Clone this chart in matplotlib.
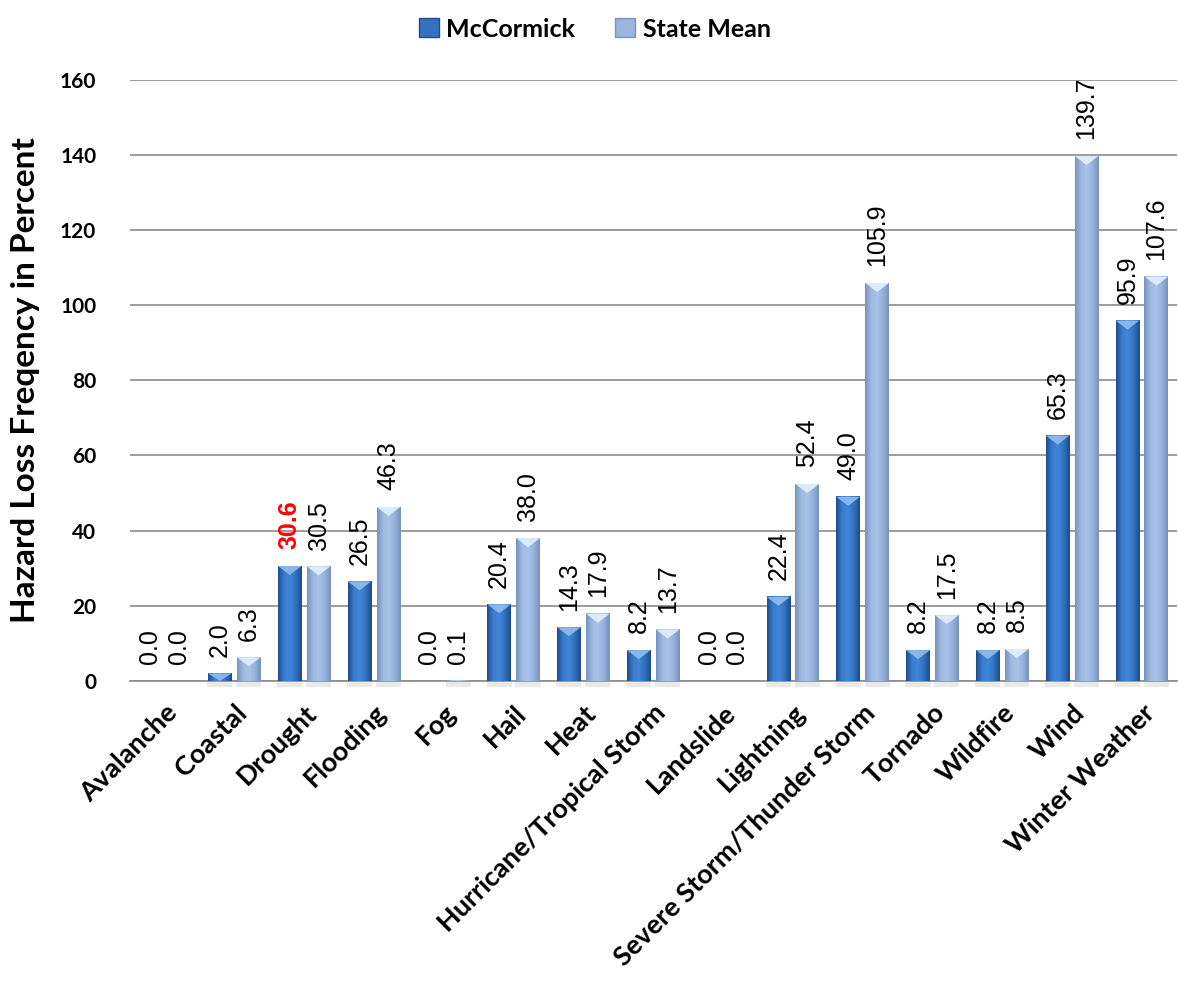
import numpy as np
import matplotlib.pyplot as plt
from matplotlib.colors import LinearSegmentedColormap
from matplotlib.patches import Polygon, Rectangle, Patch

categories = ['Avalanche', 'Coastal', 'Drought', 'Flooding', 'Fog', 'Hail', 'Heat',
              'Hurricane/Tropical Storm', 'Landslide', 'Lightning',
              'Severe Storm/Thunder Storm', 'Tornado', 'Wildfire', 'Wind', 'Winter Weather']
mccormick = [0.0, 2.0, 30.6, 26.5, 0.0, 20.4, 14.3, 8.2, 0.0, 22.4, 49.0, 8.2, 8.2, 65.3, 95.9]
state_mean = [0.0, 6.3, 30.5, 46.3, 0.1, 38.0, 17.9, 13.7, 0.0, 52.4, 105.9, 17.5, 8.5, 139.7, 107.6]
series_names = ['McCormick', 'State Mean']
highlight = (0, 2)  # McCormick / Drought label shown in red

bold_font = 'Lato'
label_font = 'Liberation Sans'

fig = plt.figure(figsize=(11.78, 9.84), dpi=100)
ax = fig.add_axes([0.110, 0.308, 0.889, 0.611])

x = np.arange(len(categories))
width = 0.34
off = 0.207

cmaps = [
    LinearSegmentedColormap.from_list('dk', ['#1d4c8c', '#3a7bcc', '#4186d8', '#3270bf', '#1d4c8c']),
    LinearSegmentedColormap.from_list('lt', ['#7693bd', '#9dbae2', '#a8c4ea', '#94b2dc', '#7693bd']),
]
tops = ['#8fbdf0', '#e4f0fc']
grad = np.linspace(0, 1, 64).reshape(1, -1)

for i, vals in enumerate([mccormick, state_mean]):
    bars = ax.bar(x + (2 * i - 1) * off, vals, width, color='none', edgecolor='none',
                  label=series_names[i], zorder=3)
    for b in bars:
        bx, bw, bh = b.get_x(), b.get_width(), b.get_height()
        if bh <= 0:
            continue
        ax.imshow(grad, cmap=cmaps[i], extent=[bx, bx + bw, 0, bh], aspect='auto',
                  zorder=3, interpolation='bicubic')
        th = min(2.4, bh)
        ax.add_patch(Polygon([[bx, bh], [bx + bw, bh], [bx + bw / 2, bh - th]],
                             closed=True, facecolor=tops[i], edgecolor='none', zorder=4, alpha=0.9))
        # soft shadow below the baseline
        ax.add_patch(Rectangle((bx - 0.01, -1.5), bw + 0.02, 1.5, facecolor='#d8d8d8',
                               edgecolor='none', zorder=2, clip_on=False, alpha=0.55))

    for j, b in enumerate(bars):
        red = (i, j) == highlight
        ax.annotate(f'{vals[j]:.1f}', (b.get_x() + b.get_width() / 2, b.get_height()),
                    xytext=(0, 12), textcoords='offset points', rotation=90,
                    ha='center', va='bottom', fontsize=18,
                    color='red' if red else 'black',
                    fontweight='bold' if red else 'normal',
                    family=label_font, zorder=5)

ax.set_xlim(-0.5, len(categories) - 0.5)
ax.set_ylim(0, 160)
ax.set_yticks(range(0, 161, 20))
ax.yaxis.grid(True, color='#8c8c8c', linewidth=1.2, zorder=0)
ax.set_axisbelow(True)
for s in ['left', 'right', 'top']:
    ax.spines[s].set_visible(False)
ax.spines['bottom'].set_color('#8c8c8c')
ax.spines['bottom'].set_linewidth(1.2)
ax.tick_params(axis='y', length=0, pad=24)
ax.tick_params(axis='x', length=0, pad=14)
for t in ax.get_yticklabels():
    t.set_fontfamily(bold_font)
    t.set_fontweight('bold')
    t.set_fontsize(15)
ax.set_xticks(x)
ax.set_xticklabels(categories, rotation=45, ha='right', rotation_mode='anchor',
                   fontsize=19.5, fontweight='bold', family=bold_font)
ax.set_ylabel('Hazard Loss Freqency in Percent', fontsize=24, fontweight='bold',
              family=bold_font, labelpad=14)

handles = [Patch(facecolor='#3571c0', edgecolor='#1d4c8c'),
           Patch(facecolor='#9ab6df', edgecolor='#7693bd')]
fig.legend(handles, series_names, loc='upper center', bbox_to_anchor=(0.505, 1.005),
           ncol=2, frameon=False, handlelength=0.8, handleheight=0.8,
           handletextpad=0.3, columnspacing=1.6,
           prop={'family': bold_font, 'weight': 'bold', 'size': 18})

fig.savefig('out.png', dpi=100)
